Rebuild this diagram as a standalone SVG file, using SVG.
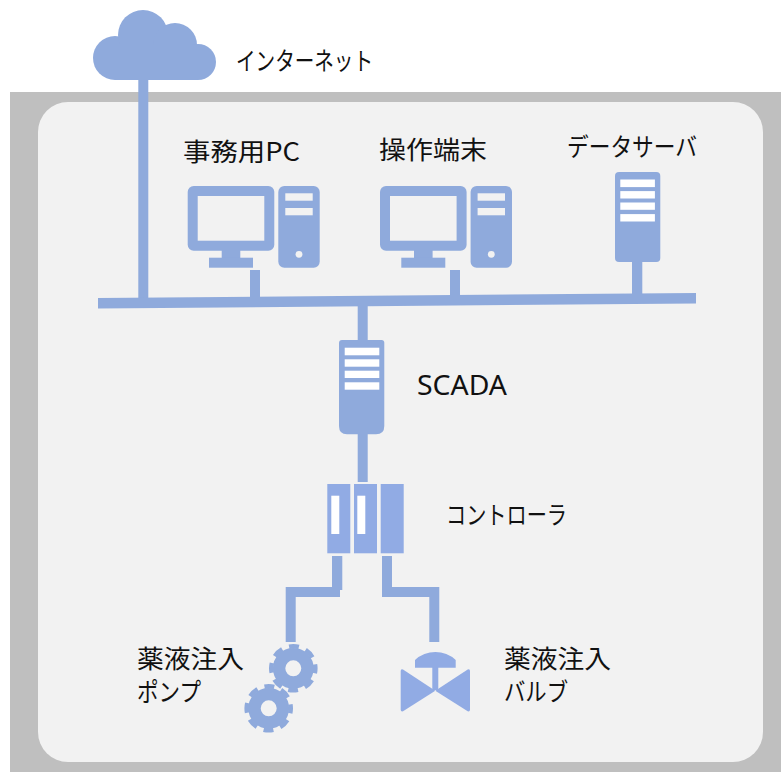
<svg xmlns="http://www.w3.org/2000/svg" xmlns:xlink="http://www.w3.org/1999/xlink" width="781" height="772" viewBox="0 0 781 772">
<style>
.b{fill:#8faadc}
.c{fill:#91abe4}
.w{fill:#fff}
.s{fill:#f2f2f2}
.t{font-family:"Noto Sans CJK JP","Noto Sans",sans-serif;font-size:25px;fill:#111}
.l{font-family:"Noto Sans","Liberation Sans",sans-serif;font-size:27px;fill:#111}
</style>
<defs>
<g id="pc">
<rect class="b" x="0" y="0" width="86.6" height="64.7" rx="6"/>
<rect class="s" x="10" y="10" width="66.6" height="44.7"/>
<rect class="b" x="34" y="64" width="18.6" height="8"/>
<rect class="b" x="21.3" y="71.7" width="44" height="10"/>
<rect class="b" x="90.6" y="0" width="41.4" height="81.7" rx="6"/>
<rect class="s" x="97.6" y="7.3" width="27.4" height="7.4"/>
<rect class="s" x="97.6" y="22" width="27.4" height="7.3"/>
<circle class="s" cx="111.3" cy="68.3" r="3.4"/>
</g>
<g id="slots">
<rect class="w" x="0" y="0" width="34.6" height="7.6"/>
<rect class="w" x="0" y="11.6" width="34.6" height="7.4"/>
<rect class="w" x="0" y="23" width="34.6" height="7.3"/>
<rect class="w" x="0" y="34.6" width="34.6" height="7.4"/>
</g>
<g id="gear">
<circle cx="0" cy="0" r="14.2" fill="none" stroke="#8faadc" stroke-width="12.4"/>
<circle cx="0" cy="0" r="22" fill="none" stroke="#8faadc" stroke-width="4.6" stroke-dasharray="10 7.28" stroke-dashoffset="5"/>
</g>
</defs>
<rect x="0" y="0" width="781" height="772" fill="#fff"/>
<g id="site">
<rect x="10" y="92" width="771" height="680" fill="#bfbfbf"/>
<rect class="s" x="38" y="102" width="725" height="660" rx="30"/>
</g>
<g id="connectors">
<rect class="b" x="138.3" y="78" width="10" height="222"/>
<polygon class="b" points="98,298 696,293 696,303.500 98,308.500"/>
<rect class="b" x="250" y="270" width="10" height="30"/>
<rect class="b" x="450" y="270" width="10" height="27"/>
<rect class="b" x="632" y="260" width="10.3" height="35"/>
<rect class="b" x="357.7" y="303" width="10" height="39"/>
<rect class="b" x="357.7" y="432" width="10" height="50"/>
<path class="b" d="M332 556H342.300V590L340 590V597H295.700V642H285.700V587H332Z"/>
<path class="b" d="M382 556H392V587H439.300V642H429.300V597H382Z"/>
</g>
<g id="internet">
<circle class="b" cx="115" cy="58" r="22"/>
<circle class="b" cx="143" cy="35" r="25"/>
<circle class="b" cx="175" cy="45" r="22"/>
<circle class="b" cx="198" cy="62" r="18"/>
<rect class="b" x="115" y="45" width="83" height="35"/>
<text class="t" x="236" y="70" textLength="137" lengthAdjust="spacingAndGlyphs">インターネット</text>
</g>
<g id="office-pc">
<use xlink:href="#pc" href="#pc" x="187.700" y="186"/>
<text class="t" x="183" y="161" textLength="117" lengthAdjust="spacingAndGlyphs">事務用PC</text>
</g>
<g id="operator-terminal">
<use xlink:href="#pc" href="#pc" x="380" y="186"/>
<text class="t" x="379" y="159" textLength="108" lengthAdjust="spacingAndGlyphs">操作端末</text>
</g>
<g id="data-server">
<rect class="b" x="615" y="172" width="45.300" height="90" rx="4"/>
<use xlink:href="#slots" href="#slots" x="620.300" y="179.500"/>
<text class="t" x="567" y="156" textLength="130" lengthAdjust="spacingAndGlyphs">データサーバ</text>
</g>
<g id="scada">
<path class="b" d="M342 340H381.500Q384.300 340 384.300 343V426Q384.300 434.300 376 434.300H347Q339 434.300 339 426V343Q339 340 342 340Z"/>
<use xlink:href="#slots" href="#slots" x="344.700" y="347.700"/>
<text class="l" x="417" y="395" textLength="90" lengthAdjust="spacingAndGlyphs">SCADA</text>
</g>
<g id="controller">
<rect class="c" x="327.300" y="484" width="23" height="69.300"/>
<rect class="c" x="354" y="484" width="23" height="69.300"/>
<rect class="c" x="380.700" y="484" width="23" height="69.300"/>
<rect class="w" x="331.300" y="495.700" width="8" height="38.300"/>
<rect class="w" x="357.300" y="495.700" width="8" height="38.300"/>
<text class="t" x="446" y="524" textLength="121" lengthAdjust="spacingAndGlyphs">コントローラ</text>
</g>
<g id="pump">
<use xlink:href="#gear" href="#gear" x="293.300" y="668.300"/>
<use xlink:href="#gear" href="#gear" x="268.700" y="708.300"/>
<text class="t" x="137" y="668" textLength="107" lengthAdjust="spacingAndGlyphs">薬液注入</text>
<text class="t" x="137" y="701" textLength="64" lengthAdjust="spacingAndGlyphs">ポンプ</text>
</g>
<g id="valve">
<path class="c" d="M415 667.700V660A30 30 0 0 1 455.700 660V667.700Z"/>
<rect class="c" x="432.300" y="666" width="6" height="24"/>
<path class="c" d="M435.300 690.700L403 711.300Q400.700 712 400.700 709.500V671Q400.700 668.500 403 669.500Z"/>
<path class="c" d="M435.300 690.700L467.700 711.300Q470 712 470 709.500V671Q470 668.500 467.700 669.500Z"/>
<text class="t" x="504" y="668" textLength="107" lengthAdjust="spacingAndGlyphs">薬液注入</text>
<text class="t" x="504" y="701" textLength="64" lengthAdjust="spacingAndGlyphs">バルブ</text>
</g>
</svg>
